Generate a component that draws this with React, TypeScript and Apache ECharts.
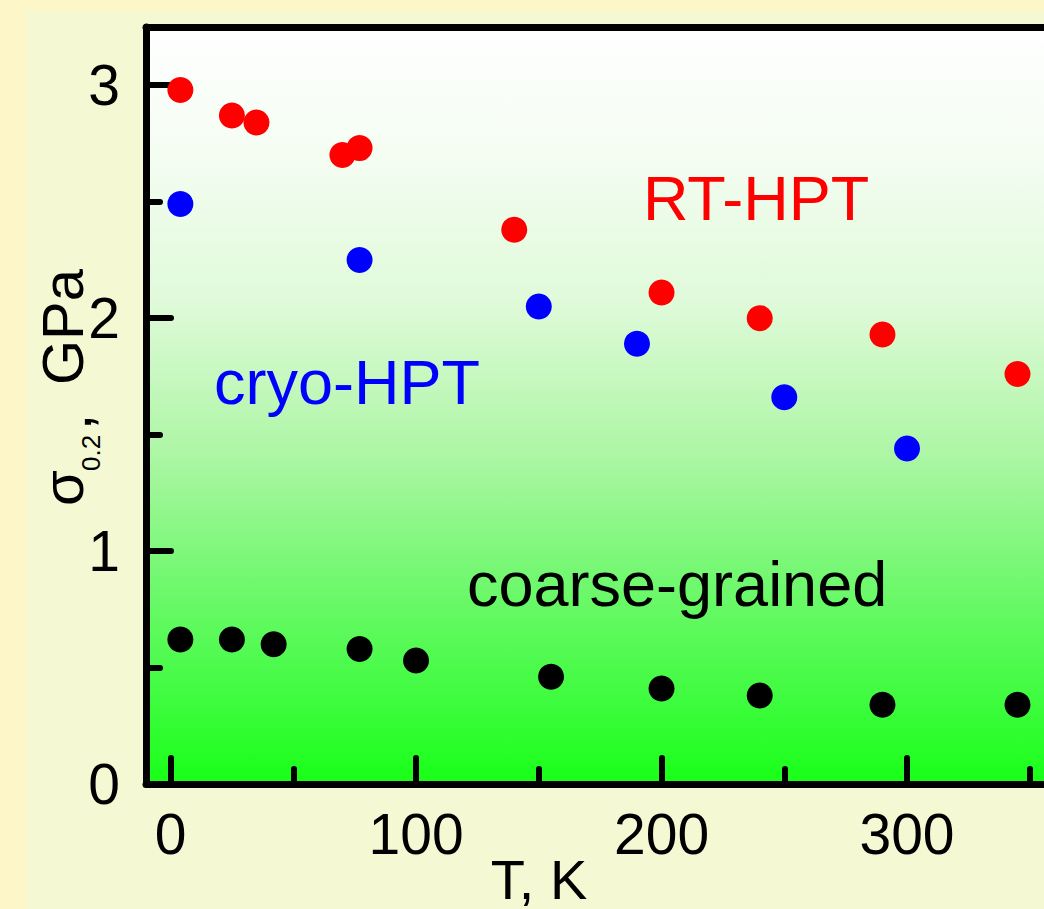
import React, { useEffect, useRef } from "react";
import * as echarts from "echarts";

const tempRT = [4, 25, 35, 70, 77, 140, 200, 240, 290, 345];
const sigmaRT = [2.98, 2.87, 2.84, 2.7, 2.73, 2.38, 2.11, 2.0, 1.93, 1.76];
const tempCryo = [4, 77, 150, 190, 250, 300];
const sigmaCryo = [2.49, 2.25, 2.05, 1.89, 1.66, 1.44];
const tempCG = [4, 25, 42, 77, 100, 155, 200, 240, 290, 345];
const sigmaCG = [0.62, 0.62, 0.6, 0.58, 0.53, 0.46, 0.41, 0.38, 0.34, 0.34];

const xMajor = [0, 100, 200, 300];
const xMinor = [50, 150, 250, 350];
const yMajor = [0, 1, 2, 3];
const yMinor = [0.5, 1.5, 2.5];

const FONT = "'Liberation Sans', Arial, sans-serif";

export default function App() {
  const ref = useRef<HTMLDivElement>(null);
  useEffect(() => {
    document.body.style.margin = "0";
    const chart = echarts.init(ref.current!, null, { renderer: "svg" });
    const pair = (xs: number[], ys: number[]) => xs.map((x, i) => [x, ys[i]]);
    const axisBase = { type: "value", min: -10, max: 355.8, splitLine: { show: false } };
    const yBase = { type: "value", min: 0, max: 3.25, splitLine: { show: false } };
    const tickStyle = { color: "#000", width: 6, cap: "round" };
    chart.setOption({
      animation: false,
      backgroundColor: "#fdf6c9",
      grid: {
        left: 146,
        top: 27,
        right: 0,
        bottom: 125,
        show: true,
        borderWidth: 0,
        backgroundColor: {
          type: "linear",
          x: 0,
          y: 0,
          x2: 0,
          y2: 1,
          colorStops: [
            { offset: 0, color: "#ffffff" },
            { offset: 0.16, color: "#f5fdf3" },
            { offset: 0.36, color: "#e0fada" },
            { offset: 0.56, color: "#aef6a6" },
            { offset: 0.73, color: "#72f870" },
            { offset: 0.89, color: "#3efc3e" },
            { offset: 1, color: "#18ff18" },
          ],
        },
      },
      xAxis: [
        {
          ...axisBase,
          position: "bottom",
          axisLine: { show: true, onZero: false, lineStyle: { color: "#000", width: 7 } },
          axisTick: { show: true, inside: true, length: 26, customValues: xMajor, lineStyle: tickStyle },
          axisLabel: { customValues: xMajor, fontSize: 57, fontFamily: FONT, color: "#000", margin: 21 },
        },
        {
          ...axisBase,
          position: "bottom",
          axisLine: { show: false, onZero: false },
          axisTick: { show: true, inside: true, length: 15, customValues: xMinor, lineStyle: tickStyle },
          axisLabel: { show: false },
        },
        {
          ...axisBase,
          position: "top",
          axisLine: { show: true, onZero: false, lineStyle: { color: "#000", width: 7 } },
          axisTick: { show: false },
          axisLabel: { show: false },
        },
      ],
      yAxis: [
        {
          ...yBase,
          position: "left",
          axisLine: { show: true, onZero: false, lineStyle: { color: "#000", width: 7 } },
          axisTick: { show: true, inside: true, length: 25, customValues: yMajor, lineStyle: tickStyle },
          axisLabel: { customValues: yMajor, fontSize: 57, fontFamily: FONT, color: "#000", margin: 26 },
        },
        {
          ...yBase,
          position: "left",
          axisLine: { show: false, onZero: false },
          axisTick: { show: true, inside: true, length: 14, customValues: yMinor, lineStyle: tickStyle },
          axisLabel: { show: false },
        },
      ],
      series: [
        {
          type: "scatter",
          xAxisIndex: 0,
          yAxisIndex: 0,
          symbolSize: 26,
          itemStyle: { color: "#000000", opacity: 1 },
          data: pair(tempCG, sigmaCG),
        },
        {
          type: "scatter",
          xAxisIndex: 0,
          yAxisIndex: 0,
          symbolSize: 26,
          itemStyle: { color: "#0000ff", opacity: 1 },
          data: pair(tempCryo, sigmaCryo),
        },
        {
          type: "scatter",
          xAxisIndex: 0,
          yAxisIndex: 0,
          symbolSize: 26,
          itemStyle: { color: "#ff0000", opacity: 1 },
          data: pair(tempRT, sigmaRT),
        },
      ],
      graphic: [
        {
          type: "rect",
          z: -100,
          silent: true,
          shape: { x: 27, y: 12, width: 1100, height: 1000 },
          style: { fill: "#f4f9d4" },
        },
        {
          type: "text",
          x: 643,
          y: 198,
          z: 10,
          style: { text: "RT-HPT", fill: "#ff0000", fontSize: 63, fontFamily: FONT, align: "left", verticalAlign: "middle" },
        },
        {
          type: "text",
          x: 214,
          y: 382,
          z: 10,
          style: { text: "cryo-HPT", fill: "#0000ff", fontSize: 63, fontFamily: FONT, align: "left", verticalAlign: "middle" },
        },
        {
          type: "text",
          x: 467,
          y: 584,
          z: 10,
          style: { text: "coarse-grained", fill: "#000000", fontSize: 63, fontFamily: FONT, align: "left", verticalAlign: "middle" },
        },
        {
          type: "text",
          x: 539,
          y: 879,
          z: 10,
          style: { text: "T, K", fill: "#000", fontSize: 56, lineHeight: 50, fontFamily: FONT, align: "center", verticalAlign: "middle" },
        },
        {
          type: "text",
          x: 62,
          y: 506,
          rotation: Math.PI / 2,
          z: 10,
          style: { text: "σ", fill: "#000", fontSize: 58, fontFamily: FONT, align: "left", verticalAlign: "middle" },
        },
        {
          type: "text",
          x: 91,
          y: 471,
          rotation: Math.PI / 2,
          z: 10,
          style: { text: "0.2", fill: "#000", fontSize: 26, fontFamily: FONT, align: "left", verticalAlign: "middle" },
        },
        {
          type: "text",
          x: 70,
          y: 430,
          rotation: Math.PI / 2,
          z: 10,
          style: { text: ",", fill: "#000", fontSize: 58, fontFamily: FONT, align: "left", verticalAlign: "middle" },
        },
        {
          type: "text",
          x: 62,
          y: 385,
          rotation: Math.PI / 2,
          z: 10,
          style: { text: "GPa", fill: "#000", fontSize: 58, fontFamily: FONT, align: "left", verticalAlign: "middle" },
        },
      ],
    });
    return () => chart.dispose();
  }, []);
  return <div ref={ref} style={{ width: 1044, height: 909 }} />;
}
